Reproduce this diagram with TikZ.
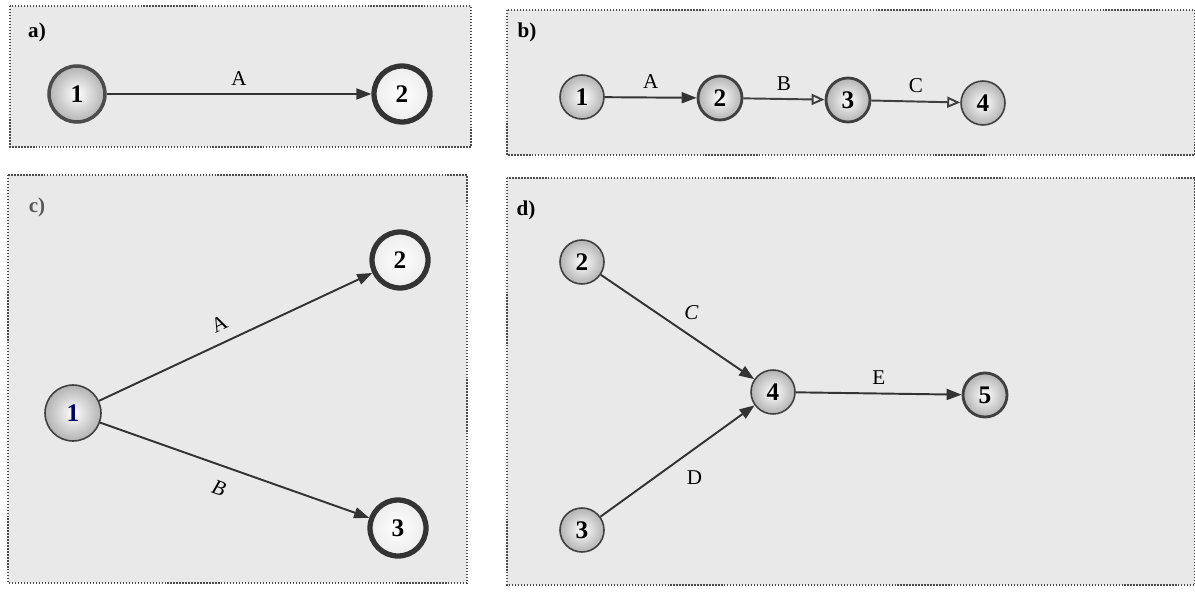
\documentclass[tikz,border=0pt]{standalone}
\usepackage{fontspec}
\setmainfont{Liberation Serif}
\usetikzlibrary{arrows.meta,positioning}

\begin{document}
\begin{tikzpicture}[
    x=0.02cm, y=-0.02cm,
    panel/.style={draw=gray!60!black, densely dotted, fill=gray!17, line width=0.7pt},
    event/.style={circle, minimum size=0.88cm, inner sep=0pt, draw=gray!50!black, line width=0.9pt,
                  inner color=white, outer color=gray!60, font=\bfseries\Large},
    big/.style={minimum size=1.12cm},
    final/.style={draw=black!80, line width=3pt, inner color=white, outer color=white!85!gray},
    arrow/.style={-{Triangle[length=3mm,width=2.2mm]}, line width=1.1pt, draw=black!80},
    openarrow/.style={-{Triangle[open,length=2.6mm,width=2.2mm]}, line width=1.1pt, draw=black!75},
    tag/.style={font=\bfseries\large},
    lbl/.style={font=\large},
]
    \useasboundingbox (0,0) rectangle (1195,591);
    \fill[white] (0,0) rectangle (1195,591);

    % panel frames
    \draw[panel] (10,6) rectangle (471,147);
    \draw[panel] (507,10) rectangle (1195,155);
    \draw[panel] (8,175) rectangle (467,583);
    \draw[panel] (507,178) rectangle (1195,585);

    \node[tag] (ta) at (37,32) {a)};
    \node[tag] (tb) at (527,32) {b)};
    \node[tag, text=gray!70!black] (tc) at (37,207) {c)};
    \node[tag] (td) at (526,210) {d)};

    % a) one activity
    \node[event, big, line width=2pt, draw=black!70] (a1) at (77,94) {1};
    \node[event, big, final] (a2) at (402,94) {2};
    \draw[arrow] (a1) -- node[lbl, above=1pt] {A} (a2);

    % b) activities in series
    \node[event] (b1) at (582,97) {1};
    \node[event, line width=1.6pt, draw=black!75] (b2) at (720,98) {2};
    \node[event, line width=1.6pt, draw=black!75] (b3) at (848,100) {3};
    \node[event] (b4) at (983,103) {4};
    \draw[arrow] (b1) -- node[lbl, above=1pt] {A} (b2);
    \draw[openarrow] (b2) -- node[lbl, above=1pt] {B} (b3);
    \draw[openarrow] (b3) -- node[lbl, above=1pt] {C} (b4);

    % c) burst node
    \node[event, big, text=blue!40!black] (c1) at (73,413) {1};
    \node[event, big, final] (c2) at (400,260) {2};
    \node[event, big, final] (c3) at (398,528) {3};
    \draw[arrow] (c1) -- node[lbl, sloped, above=3pt, pos=0.47] {A} (c2);
    \draw[arrow] (c1) -- node[lbl, sloped, below=5pt, pos=0.47, font=\large\itshape] {B} (c3);

    % d) merge node
    \node[event] (d2) at (582,262) {2};
    \node[event] (d3) at (582,530) {3};
    \node[event] (d4) at (773,392) {4};
    \node[event, line width=1.6pt, draw=black!75] (d5) at (985,395) {5};
    \draw[arrow] (d2) -- node[lbl, above right=0pt, pos=0.5, font=\large\itshape] {C} (d4);
    \draw[arrow] (d3) -- node[lbl, below right=2pt, pos=0.5] {D} (d4);
    \draw[arrow] (d4) -- node[lbl, above=1pt] {E} (d5);
\end{tikzpicture}
\end{document}
